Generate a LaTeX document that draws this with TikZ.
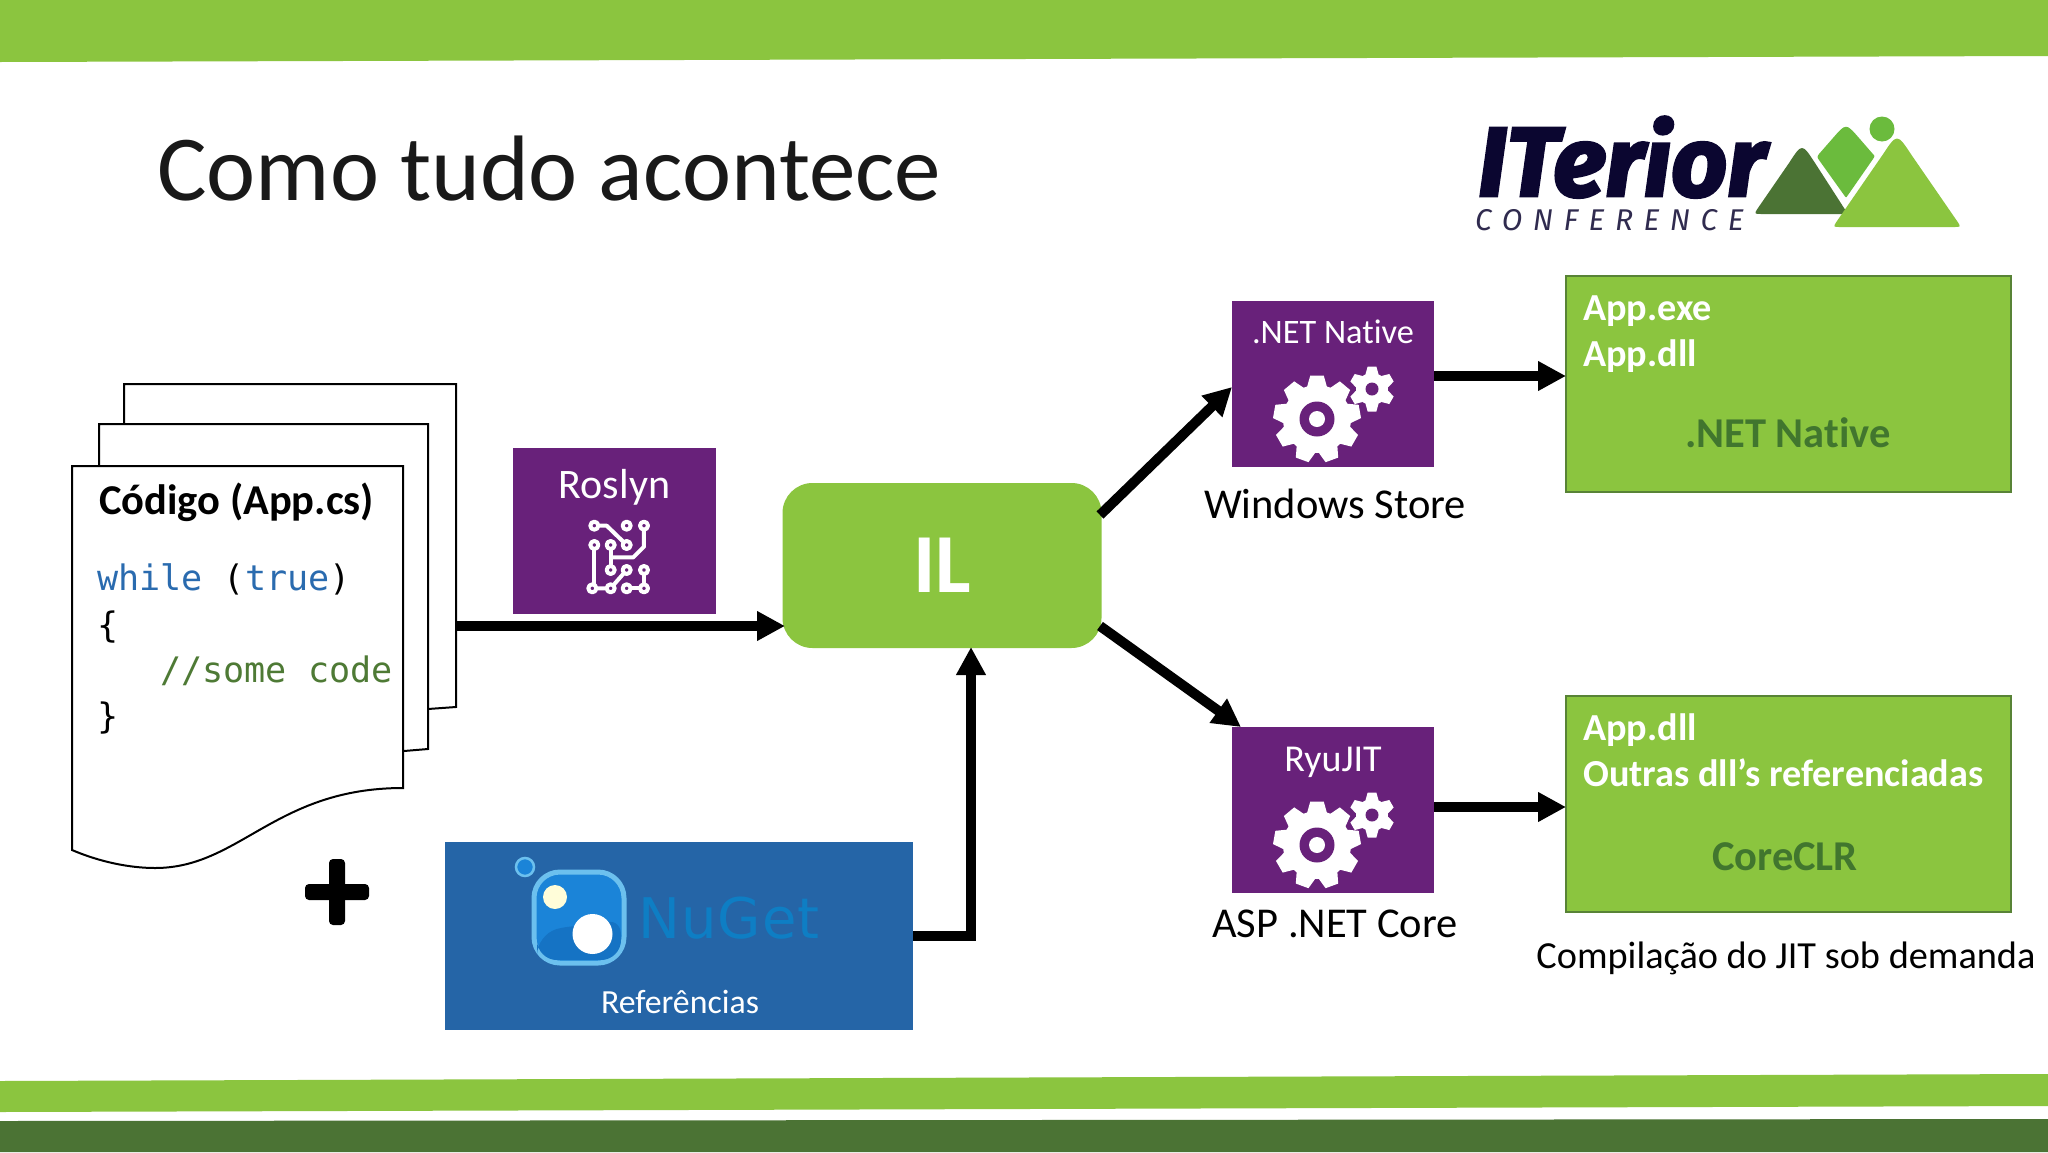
\documentclass[tikz,border=0pt]{standalone}
\usepackage{fontspec}
\setmainfont{Carlito}[Ligatures=NoCommon]
\newfontfamily\monof{DejaVu Sans Mono}
\newfontfamily\logof{Fira Sans}
\newfontfamily\nugetf{DejaVu Sans}
\definecolor{bandgreen}{HTML}{8BC53F}
\definecolor{banddark}{HTML}{4B7334}
\definecolor{purplebox}{HTML}{68217A}
\definecolor{bluebox}{HTML}{2565A7}
\definecolor{greentext}{HTML}{41762E}
\definecolor{kwblue}{HTML}{2A6BAF}
\definecolor{cmtgreen}{HTML}{4E7A35}
\definecolor{logonavy}{HTML}{0B0630}
\definecolor{logomid}{HTML}{6BBB3D}
\definecolor{nugetring}{HTML}{6CC0EE}
\definecolor{nugetfill}{HTML}{1B84D8}
\definecolor{nugetlow}{HTML}{1573C4}
\definecolor{nugetname}{HTML}{0E7EC4}
\newcommand{\fs}[1]{\fontsize{#1}{#1}\selectfont}
\usetikzlibrary{arrows.meta}
\tikzset{
  x=1pt,y=-1pt,
  page/.style={draw=black,line width=2pt,fill=white,line join=miter},
  flow/.style={draw=black,line width=10pt,-{Triangle[length=28pt,width=28pt]}},
  purple/.style={fill=purplebox,draw=none,minimum width=202pt,minimum height=166pt,inner sep=0pt,outer sep=0pt},
  greenbox/.style={fill=bandgreen,draw=banddark!80!bandgreen,line width=2pt,minimum width=445pt,minimum height=217pt,inner sep=0pt,outer sep=0pt},
  whitet/.style={text=white,inner sep=0pt,anchor=center},
  whitebold/.style={text=white,inner sep=0pt,anchor=base west,font=\fs{38.2}\bfseries},
  greenbold/.style={inner sep=0pt,text=greentext,font=\fs{42.5}\bfseries},
  caption/.style={text=black,inner sep=0pt,anchor=center,font=\fs{42.5}},
  code/.style={inner sep=0pt,anchor=base west,font=\monof\fs{35.1}},
  circuit/.style={white,line width=4pt,line join=round},
}
\newcommand{\gear}[7]{% x,y,outer,root,teeth,hole,toothscale
  \fill[white] (#1,#2) circle[radius=#4];
  \foreach \k in {1,...,#5}{
    \pgfmathsetmacro{\ang}{360*\k/#5}
    \pgfmathsetmacro{\wa}{#4*sin(180/#5)*#7}
    \pgfmathsetmacro{\wb}{#4*sin(180/#5)*#7*0.68}
    \fill[white,shift={(#1,#2)},rotate=\ang] (-\wa,0) -- (-\wa,-#4*0.95) -- (-\wb,-#3) -- (\wb,-#3) -- (\wa,-#4*0.95) -- (\wa,0) -- cycle;
  }
  \fill[purplebox] (#1,#2) circle[radius=#6];
}
\newcommand{\gears}{%
  \gear{1317}{419}{43.5}{34}{9}{17.5}{0.85}
  \fill[white] (1317,419) circle[radius=8];
  \gear{1372}{389}{22.5}{16}{6}{6.5}{0.8}
}
\begin{document}
\begin{tikzpicture}
\useasboundingbox (0,0) rectangle (2048,1152);
\fill[white] (0,0) rectangle (2048,1152);
% bands
\fill[bandgreen] (0,0) -- (2048,0) -- (2048,56) -- (0,62) -- cycle;
\fill[bandgreen] (0,1081) -- (2048,1074) -- (2048,1106) -- (0,1112) -- cycle;
\fill[banddark] (0,1121) -- (2048,1119) -- (2048,1152) -- (0,1152) -- cycle;
% title
\node[inner sep=0pt,anchor=base west,text=black!90!white] (title) at (157,200) {\fs{93}Como tudo acontece};
% logo
\node[inner sep=0pt,anchor=base west,text=logonavy] (logotext) at (1478,196) {\logof\fs{98}\addfontfeature{FakeBold=3}\bfseries\itshape ITerior};
\node[inner sep=0pt,anchor=base west,text=logonavy!85!white] (logosub) at (1475,230) {\logof\fs{30}\addfontfeature{LetterSpace=35}\itshape CONFERENCE};
\fill[banddark] (1789,163) .. controls (1802,143) .. (1815,163) -- (1844,208) .. controls (1848,214) .. (1840,214) -- (1762,214) .. controls (1754,214) .. (1758,208) -- cycle;
\fill[logomid] (1833,138) .. controls (1846,123) .. (1859,138) -- (1872,153) .. controls (1875,156) .. (1873,159) -- (1848,195) .. controls (1846,198) .. (1844,195) -- (1819,160) .. controls (1817,157) .. (1819,154) -- cycle;
\fill[bandgreen] (1882.5,155) .. controls (1897,133) .. (1911.5,155) -- (1957,221) .. controls (1961,227) .. (1954,227) -- (1840,227) .. controls (1833,227) .. (1837,221) -- cycle;
\fill[logomid] (1882,129) circle[radius=12.5];
% document stack
\draw[page] (124,384) -- (456,384) -- (456,707) -- (400,711) -- (124,720) -- cycle;
\draw[page] (99,424) -- (428,424) -- (428,749) -- (380,753) -- (99,760) -- cycle;
\draw[page] (72,466) -- (403,466) -- (403,788) .. controls (275,788) and (240,868) .. (155,868) .. controls (130,868) and (100,862) .. (72,850) -- cycle;
\coordinate (docout) at (456,626);
\node[inner sep=0pt,anchor=base west,font=\fs{42.5}\bfseries] (codehead) at (99,514) {Código (App.cs)};
\node[code] (l1) at (97,590) {\textcolor{kwblue}{while} (\textcolor{kwblue}{true})};
\node[code] (l2) at (97,637) {\{};
\node[code] (l3) at (160,682) {\textcolor{cmtgreen}{//some code}};
\node[code] (l4) at (97,728) {\}};
% plus
\fill[black,rounded corners=4pt] (329,859) rectangle (345,925);
\fill[black,rounded corners=4pt] (305,884) rectangle (369,900);
% Roslyn
\node[purple,minimum width=203pt] (roslyn) at (614.5,531) {};
\node[whitet,font=\fs{42}] (roslynt) at (614.5,487) {Roslyn};
\begin{scope}[shift={(500,440)},x=0.3333pt,y=-0.3333pt]
  \draw[circuit] (283,257) -- (320,257) -- (380,315);
  \draw[circuit] (432,257) -- (432,320) -- (400,352) -- (332,352);
  \draw[circuit] (332,315) -- (332,390);
  \draw[circuit] (283,315) -- (283,445);
  \draw[circuit] (277,445) -- (332,445) -- (380,390);
  \draw[circuit] (380,445) -- (432,445) -- (432,390);
  \foreach \p in {(283,257),(380,257),(432,257),(283,315),(332,315),(380,315),(332,390),(380,390),(432,390),(277,445),(332,445),(380,445),(432,445)}
    \draw[circuit,fill=purplebox] \p circle[radius=12];
\end{scope}
% IL
\node[fill=bandgreen,rounded corners=30pt,minimum width=319pt,minimum height=165pt,inner sep=0pt,outer sep=0pt,text=white,font=\fs{84}\bfseries] (il) at (942,565.5) {IL};
\coordinate (ilne) at (1100,515);
\coordinate (ilse) at (1100,626);
\coordinate (ilin) at (785,626);
\coordinate (ilup) at (971,647);
% NuGet
\node[fill=bluebox,minimum width=468pt,minimum height=188pt,inner sep=0pt,outer sep=0pt] (nuget) at (679,936) {};
\coordinate (nugetout) at (913,936);
\coordinate (nugetbend) at (971,936);
\draw[fill=nugetfill,draw=nugetring,line width=2.5pt] (525,867) circle[radius=9];
\draw[fill=nugetfill,draw=nugetring,line width=5pt,rounded corners=26pt] (534,872) rectangle (624,963);
\fill[nugetlow,rounded corners=20pt] (537,935) .. controls (570,925) and (600,925) .. (621,915) -- (621,960) -- (537,960) -- cycle;
\fill[white!85!yellow] (555,897) circle[radius=12];
\fill[white] (592.5,934) circle[radius=20];
\node[inner sep=0pt,anchor=base west,text=nugetname,font=\nugetf\fs{56}] (nugett) at (638,938) {\addfontfeature{LetterSpace=2}NuGet};
\node[whitet,font=\fs{33.8}] (reft) at (680,1002) {Referências};
% .NET Native
\node[purple] (native) at (1333,384) {};
\node[whitet,font=\fs{34.3}] (nativet) at (1333,332) {.NET Native};
\begin{scope}\gears\end{scope}
\node[caption] (store) at (1335,504) {Windows Store};
% RyuJIT
\node[purple] (ryu) at (1333,810) {};
\node[whitet,font=\fs{38}] (ryut) at (1333,762) {RyuJIT};
\begin{scope}[shift={(0,426)}]\gears\end{scope}
\node[caption] (asp) at (1335,924) {ASP .NET Core};
% green boxes
\node[greenbox,minimum height=216pt] (g1) at (1788.5,384) {};
\node[whitebold] (g1a) at (1583,320) {App.exe};
\node[whitebold] (g1b) at (1583,366) {App.dll};
\node[greenbold] (g1c) at (1788,433) {.NET Native};
\node[greenbox,minimum height=216pt] (g2) at (1788.5,804) {};
\node[whitebold] (g2a) at (1583,740) {App.dll};
\node[whitebold] (g2b) at (1583,786) {Outras dll’s referenciadas};
\node[greenbold] (g2c) at (1785,857) {CoreCLR};
\node[inner sep=0pt,font=\fs{38.3}] (jit) at (1786,958) {Compilação do JIT sob demanda};
% connectors
\draw[flow] (docout) -- (ilin);
\draw[flow] (nugetout) -- (nugetbend) -- (ilup);
\draw[flow] (ilne) -- (1232,387);
\draw[flow] (ilse) -- (1241,727);
\draw[flow] (native.east |- 0,376) -- (g1.west |- 0,376);
\draw[flow] (ryu.east |- 0,807) -- (g2.west |- 0,807);
\end{tikzpicture}
\end{document}
